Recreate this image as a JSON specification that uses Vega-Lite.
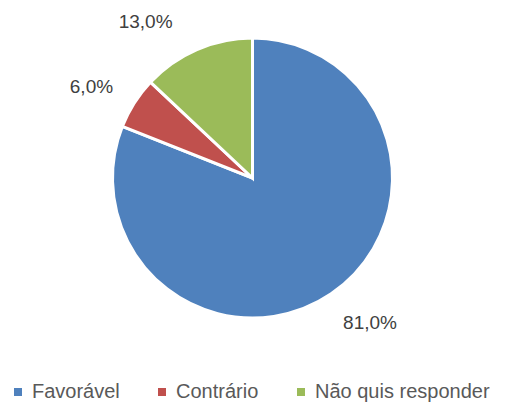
{
  "$schema": "https://vega.github.io/schema/vega-lite/v6.json",
  "width": 505,
  "height": 356,
  "padding": {"left": 0, "top": 0, "right": 0, "bottom": 49},
  "autosize": {"type": "none"},
  "background": "white",
  "config": {"view": {"stroke": null}, "font": "Liberation Sans"},
  "data": {
    "values": [
      {"categoria": "Favorável", "valor": 81, "rotulo": "81,0%", "ordem": 1},
      {"categoria": "Contrário", "valor": 6, "rotulo": "6,0%", "ordem": 2},
      {"categoria": "Não quis responder", "valor": 13, "rotulo": "13,0%", "ordem": 3}
    ]
  },
  "encoding": {
    "theta": {"field": "valor", "type": "quantitative", "stack": true},
    "order": {"field": "ordem", "type": "quantitative"}
  },
  "layer": [
    {
      "mark": {"type": "arc", "outerRadius": 140, "stroke": "white", "strokeWidth": 3},
      "encoding": {
        "color": {
          "field": "categoria",
          "type": "nominal",
          "sort": ["Favorável", "Contrário", "Não quis responder"],
          "scale": {"domain": ["Favorável", "Contrário", "Não quis responder"], "range": ["#4F81BD", "#C0504D", "#9BBB59"]},
          "legend": {
            "title": null,
            "orient": "none",
            "direction": "horizontal",
            "legendX": 8,
            "legendY": 382,
            "symbolType": "square",
            "symbolSize": 64,
            "symbolStrokeWidth": 0,
            "labelFontSize": 20,
            "labelColor": "#595959",
            "labelOffset": 4,
            "columnPadding": 32,
            "labelLimit": 300
          }
        }
      }
    },
    {
      "mark": {"type": "text", "radius": 186, "fontSize": 19, "color": "#404040", "dx": 13, "dy": -9},
      "encoding": {"text": {"condition": {"test": "datum.ordem == 1", "field": "rotulo"}, "value": ""}}
    },
    {
      "mark": {"type": "text", "radius": 186, "fontSize": 19, "color": "#404040", "dx": -4, "dy": 9},
      "encoding": {"text": {"condition": {"test": "datum.ordem == 2", "field": "rotulo"}, "value": ""}}
    },
    {
      "mark": {"type": "text", "radius": 186, "fontSize": 19, "color": "#404040", "dx": -33, "dy": 15},
      "encoding": {"text": {"condition": {"test": "datum.ordem == 3", "field": "rotulo"}, "value": ""}}
    }
  ]
}
